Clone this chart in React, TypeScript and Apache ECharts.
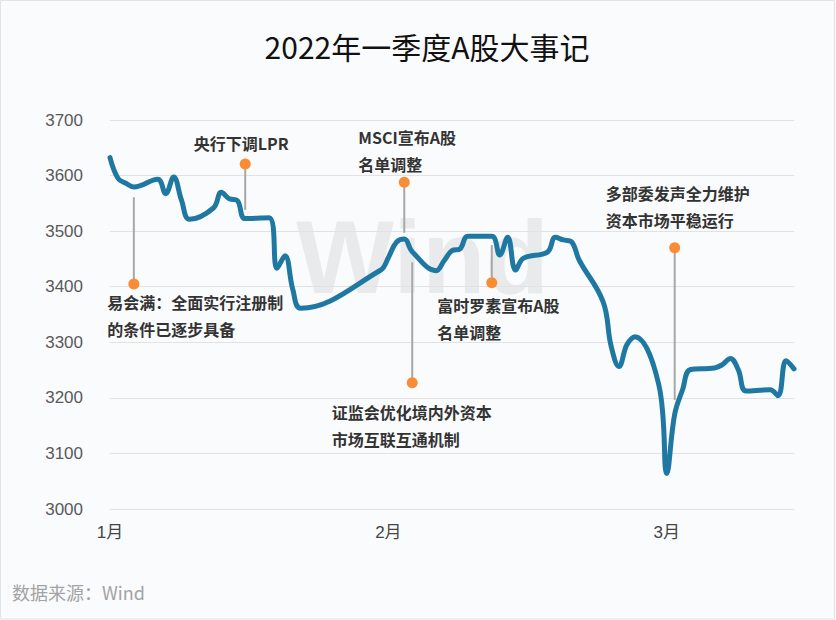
import React, { useEffect, useRef } from "react";
import * as echarts from "echarts";

// ---- Data ----
const tradeDates = [
  "2022-01-04", "2022-01-05", "2022-01-06", "2022-01-07", "2022-01-10", "2022-01-11", "2022-01-12", "2022-01-13", "2022-01-14",
  "2022-01-17", "2022-01-18", "2022-01-19", "2022-01-20", "2022-01-21", "2022-01-24", "2022-01-25", "2022-01-26", "2022-01-27", "2022-01-28",
  "2022-02-07", "2022-02-08", "2022-02-09", "2022-02-10", "2022-02-11", "2022-02-14", "2022-02-15", "2022-02-16", "2022-02-17", "2022-02-18",
  "2022-02-21", "2022-02-22", "2022-02-23", "2022-02-24", "2022-02-25", "2022-02-28",
  "2022-03-01", "2022-03-02", "2022-03-03", "2022-03-04", "2022-03-07", "2022-03-08", "2022-03-09", "2022-03-10", "2022-03-11",
  "2022-03-14", "2022-03-15", "2022-03-16", "2022-03-17", "2022-03-18", "2022-03-21", "2022-03-22", "2022-03-23", "2022-03-24", "2022-03-25",
  "2022-03-28", "2022-03-29", "2022-03-30", "2022-03-31",
];
const closes = [
  3632.33, 3595.18, 3586.08, 3579.54, 3593.52, 3567.44, 3597.43, 3555.26, 3521.26,
  3541.67, 3569.91, 3558.18, 3555.06, 3522.57, 3524.11, 3433.06, 3455.67, 3394.25, 3361.44,
  3429.58, 3452.63, 3479.95, 3485.91, 3462.95, 3428.88, 3446.65, 3465.05, 3468.04, 3490.76,
  3490.61, 3457.15, 3489.15, 3429.96, 3451.41, 3462.31,
  3488.83, 3484.19, 3481.11, 3447.65, 3372.86, 3293.53, 3256.39, 3296.09, 3309.75,
  3223.53, 3063.97, 3170.71, 3215.04, 3251.07, 3253.69, 3259.86, 3271.03, 3250.26, 3212.24,
  3214.5, 3203.94, 3266.6, 3252.2,
];
const startDate = "2022-01-04";
const endDate = "2022-03-31";

const yTicks = { min: 3000, max: 3700, interval: 100 };

const annDates = ["2022-01-07", "2022-01-21", "2022-02-10", "2022-02-11", "2022-02-21", "2022-03-16"];
const annTexts = [
  "易会满：全面实行注册制\n的条件已逐步具备",
  "央行下调LPR",
  "MSCI宣布A股\n名单调整",
  "证监会优化境内外资本\n市场互联互通机制",
  "富时罗素宣布A股\n名单调整",
  "多部委发声全力维护\n资本市场平稳运行",
];
const annStemFrom = [3561, 3538, 3497, 3444, 3475, 3196];
const annDot = [3405, 3621, 3588, 3227, 3407, 3470];

const titleText = "2022年一季度A股大事记";
const sourceText = "数据来源：Wind";

// ---- Layout (label offsets relative to the dot) ----
const annLayout = [
  { dx: -26.5, dy: 5, align: "left", va: "top" },
  { dx: -4, dy: -21, align: "center", va: "middle" },
  { dx: -46, dy: -4.5, align: "left", va: "bottom" },
  { dx: -80.5, dy: 15.5, align: "left", va: "top" },
  { dx: -54.5, dy: 9, align: "left", va: "top" },
  { dx: -69, dy: -14.5, align: "left", va: "bottom" },
];

function buildCalendar(a: string, b: string): string[] {
  const out: string[] = [];
  const d = new Date(a + "T00:00:00Z");
  const e = new Date(b + "T00:00:00Z");
  while (d.getTime() <= e.getTime()) {
    out.push(d.toISOString().slice(0, 10));
    d.setUTCDate(d.getUTCDate() + 1);
  }
  return out;
}

const CJK = "Noto Sans CJK SC";

export default function App() {
  const ref = useRef<HTMLDivElement>(null);
  useEffect(() => {
    document.body.style.margin = "0";
    if (!ref.current) return;
    const chart = echarts.init(ref.current, null, { renderer: "svg" });
    const calendar = buildCalendar(startDate, endDate);
    const closeMap: Record<string, number> = {};
    tradeDates.forEach((d, i) => (closeMap[d] = closes[i]));
    const lineData = calendar.map((d) => (d in closeMap ? closeMap[d] : null));
    const annData = annDates.map((d, i) => [d, annStemFrom[i], annDot[i]]);

    const option: any = {
      animation: false,
      backgroundColor: "#fafbfd",
      title: {
        text: titleText,
        left: 422,
        textAlign: "center",
        top: 26,
        textStyle: { fontSize: 30, fontWeight: "normal", color: "#111", fontFamily: CJK },
      },
      grid: { left: 110, right: 42, top: 120, bottom: 111, containLabel: false },
      xAxis: {
        type: "category",
        data: calendar,
        boundaryGap: false,
        axisLine: { show: false },
        axisTick: { show: false },
        splitLine: { show: false },
        axisLabel: {
          interval: 34,
          margin: 15,
          fontSize: 17,
          color: "#444",
          fontFamily: "Liberation Sans, " + CJK,
          formatter: (v: string) => `${Number(v.slice(5, 7))}月`,
        },
      },
      yAxis: {
        type: "value",
        min: yTicks.min,
        max: yTicks.max,
        interval: yTicks.interval,
        axisLine: { show: false },
        axisTick: { show: false },
        splitLine: { lineStyle: { color: "#e2e2e4", width: 1 } },
        axisLabel: {
          fontSize: 17,
          color: "#595959",
          margin: 27,
          fontFamily: "Liberation Sans",
          formatter: (v: number) => String(v),
        },
      },
      graphic: [
        {
          type: "rect",
          silent: true,
          shape: { x: 0.5, y: 0.5, width: 834, height: 618.5 },
          style: { fill: "none", stroke: "#e3e3e6", lineWidth: 1 },
        },
        {
          type: "text",
          silent: true,
          z: -10,
          x: 422.5,
          y: 257,
          style: {
            text: "Wind",
            fill: "rgba(0,0,0,0.065)",
            fontSize: 104,
            fontWeight: "bold",
            fontFamily: "Liberation Sans",
            lineHeight: 68,
            textAlign: "center",
            textVerticalAlign: "middle",
            align: "center",
            verticalAlign: "middle",
          },
        },
        {
          type: "text",
          silent: true,
          x: 12,
          y: 592,
          style: {
            text: sourceText,
            fill: "#a3a3a3",
            fontSize: 18,
            fontFamily: CJK,
            textAlign: "left",
            textVerticalAlign: "middle",
            align: "left",
            verticalAlign: "middle",
          },
        },
      ],
      series: [
        {
          type: "line",
          data: lineData,
          connectNulls: true,
          smooth: 0.4,
          showSymbol: false,
          symbol: "none",
          z: 2,
          lineStyle: { color: "#1e78a2", width: 5, cap: "round", join: "round" },
        },
        {
          type: "custom",
          z: 3,
          silent: true,
          data: annData,
          renderItem: (params: any, api: any) => {
            const i = params.dataIndex;
            const xi = api.value(0);
            const p1 = api.coord([xi, api.value(1)]);
            const p2 = api.coord([xi, api.value(2)]);
            const lay = annLayout[i];
            return {
              type: "group",
              children: [
                {
                  type: "line",
                  shape: { x1: p1[0], y1: p1[1], x2: p2[0], y2: p2[1] },
                  style: { stroke: "#a8a8a8", lineWidth: 2 },
                },
                {
                  type: "circle",
                  shape: { cx: p2[0], cy: p2[1], r: 5.5 },
                  style: { fill: "#fb8c36" },
                },
                {
                  type: "text",
                  x: p2[0] + lay.dx,
                  y: p2[1] + lay.dy,
                  style: {
                    text: annTexts[i],
                    fill: "#333",
                    fontSize: 16,
                    fontWeight: "bold",
                    fontFamily: CJK,
                    lineHeight: 27,
                    align: lay.align,
                    verticalAlign: lay.va,
                    textAlign: lay.align,
                    textVerticalAlign: lay.va,
                  },
                },
              ],
            };
          },
        },
      ],
    };
    chart.setOption(option);
    return () => chart.dispose();
  }, []);
  return <div ref={ref} style={{ width: 836, height: 620 }} />;
}
